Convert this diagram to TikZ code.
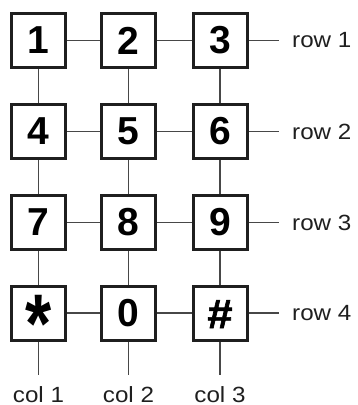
\documentclass[tikz,border=0pt]{standalone}
\usepackage{fontspec}
\setmainfont{Liberation Sans}
\newfontfamily\lblfont[FakeStretch=1.1]{Liberation Sans}
\newfontface\hashface[FakeBold=1.6,FakeStretch=1.1]{Liberation Sans Bold}
\begin{document}
\begin{tikzpicture}[x=1pt,y=-1pt,
  key/.style={draw=black!88,line width=3pt,minimum size=54pt,inner sep=0pt,fill=white,
    font=\fontsize{39}{39}\selectfont\bfseries},
  wire/.style={draw=black!72,line width=1.1pt},
  lbl/.style={font=\lblfont\fontsize{22}{22}\selectfont,inner sep=0pt,text=black!88}]
\useasboundingbox (0,0) rectangle (358,405);
% keys
\node[key] (k1) at (38.5,40.5) {1};
\node[key] (k2) at (128.5,40.5) {2};
\node[key] (k3) at (220,40.5) {3};
\node[key] (k4) at (38.5,131.5) {4};
\node[key] (k5) at (128.5,131.5) {5};
\node[key] (k6) at (220,131.5) {6};
\node[key] (k7) at (38.5,222.5) {7};
\node[key] (k8) at (128.5,222.5) {8};
\node[key] (k9) at (220,222.5) {9};
\node[key] (ks) at (38.5,313) {\raisebox{-39pt}[0pt][0pt]{\scalebox{1.05}[1.3]{\fontsize{64}{64}\selectfont *}}};
\node[key] (k0) at (128.5,313) {0};
\node[key] (kh) at (220,313) {\raisebox{-15pt}[0pt][0pt]{\fontsize{41}{41}\hashface\#}};
% row line ends
\coordinate (r1) at (279,40.5);
\coordinate (r2) at (279,131.5);
\coordinate (r3) at (279,222.5);
\coordinate (r4) at (279,313);
\coordinate (c1) at (38.5,375);
\coordinate (c2) at (128.5,375);
\coordinate (c3) at (220,375);
% horizontal wires
\draw[wire] (k1) -- (k2); \draw[wire] (k2) -- (k3); \draw[wire] (k3) -- (r1);
\draw[wire] (k4) -- (k5); \draw[wire] (k5) -- (k6); \draw[wire] (k6) -- (r2);
\draw[wire] (k7) -- (k8); \draw[wire] (k8) -- (k9); \draw[wire] (k9) -- (r3);
\draw[wire] (ks) -- (k0); \draw[wire] (k0) -- (kh); \draw[wire] (kh) -- (r4);
% vertical wires
\draw[wire] (k1) -- (k4); \draw[wire] (k4) -- (k7); \draw[wire] (k7) -- (ks); \draw[wire] (ks) -- (c1);
\draw[wire] (k2) -- (k5); \draw[wire] (k5) -- (k8); \draw[wire] (k8) -- (k0); \draw[wire] (k0) -- (c2);
\draw[wire] (k3) -- (k6); \draw[wire] (k6) -- (k9); \draw[wire] (k9) -- (kh); \draw[wire] (kh) -- (c3);
% labels
\node[lbl,anchor=west] (lr1) at (292,40.5) {row 1};
\node[lbl,anchor=west] (lr2) at (292,131.5) {row 2};
\node[lbl,anchor=west] (lr3) at (292,222.5) {row 3};
\node[lbl,anchor=west] (lr4) at (292,313) {row 4};
\node[lbl,anchor=base] (lc1) at (38.5,402.5) {col 1};
\node[lbl,anchor=base] (lc2) at (128.5,402.5) {col 2};
\node[lbl,anchor=base] (lc3) at (220,402.5) {col 3};
\end{tikzpicture}
\end{document}
